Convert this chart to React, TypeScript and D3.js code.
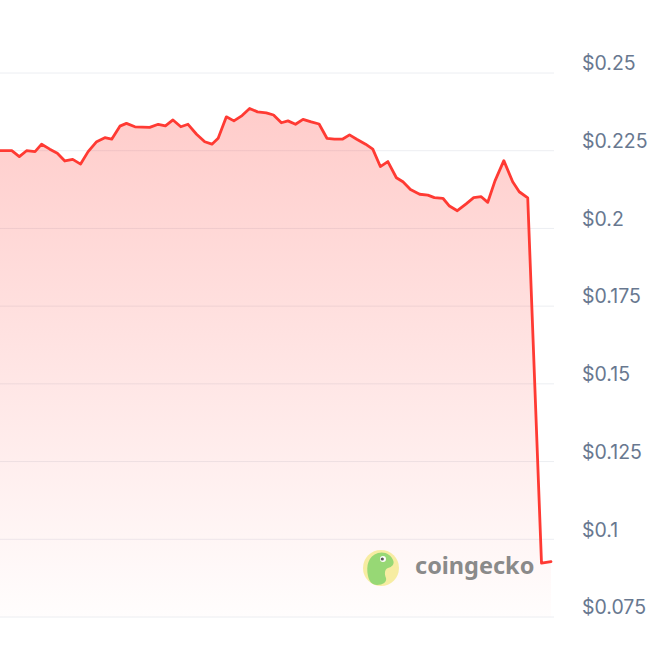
import React from "react";
import * as d3 from "d3";

// time in hours from the start of the window
const hours = [
  0, 3.6, 5.9, 8.1, 10.7, 12.7, 15.2, 17.5, 19.8, 22.2, 24.6, 26.9, 29.5, 32.0, 34.1, 36.6, 38.6,
  41.2, 43.4, 45.7, 48.3, 50.5, 52.8, 55.2, 57.4, 60.0, 62.5, 64.7, 66.6, 69.1, 71.4, 73.9, 76.2,
  78.6, 81.3, 83.5, 85.9, 87.9, 90.2, 92.5, 95.0, 97.4, 99.8, 102.1, 104.5, 106.7, 108.9, 111.6,
  113.8, 116.1, 118.4, 121.0, 123.0, 125.3, 128.1, 130.6, 132.6, 135.2, 137.2, 139.6, 142.3,
  144.6, 146.9, 148.9, 151.1, 153.8, 156.5, 158.5, 161.1, 165.3, 168.2,
];

const prices = [
  0.225, 0.225, 0.2231, 0.225, 0.2247, 0.2271, 0.2255, 0.2242, 0.2217, 0.2222, 0.2207, 0.2247,
  0.2279, 0.2292, 0.2287, 0.2329, 0.2338, 0.2327, 0.2326, 0.2325, 0.2335, 0.233, 0.2349, 0.2327,
  0.2335, 0.2303, 0.2279, 0.2271, 0.229, 0.2359, 0.2346, 0.2363, 0.2386, 0.2375, 0.2372, 0.2365,
  0.234, 0.2346, 0.2335, 0.2351, 0.2343, 0.2336, 0.229, 0.2287, 0.2287, 0.2301, 0.2287, 0.2271,
  0.2255, 0.2199, 0.2215, 0.2163, 0.215, 0.2125, 0.211, 0.2107, 0.2099, 0.2097, 0.2072, 0.2057,
  0.2079, 0.2099, 0.2102, 0.2084, 0.2153, 0.2218, 0.215, 0.2118, 0.2098, 0.0923, 0.0928,
];

const tickValues = [0.075, 0.1, 0.125, 0.15, 0.175, 0.2, 0.225, 0.25];
const tickLabels = ["$0.075", "$0.1", "$0.125", "$0.15", "$0.175", "$0.2", "$0.225", "$0.25"];

const W = 660;
const H = 660;

export default function App() {
  const x = d3.scaleLinear().domain([0, 168.2]).range([0, 551]);
  const y = d3.scaleLinear().domain([0.075, 0.25]).range([617, 73]);
  const data = hours.map((h, i) => ({ h, p: prices[i] }));

  const line = d3
    .line<{ h: number; p: number }>()
    .x((d) => x(d.h))
    .y((d) => y(d.p));
  const area = d3
    .area<{ h: number; p: number }>()
    .x((d) => x(d.h))
    .y0(y(0.075))
    .y1((d) => y(d.p));

  return (
    <svg
      width={W}
      height={H}
      style={{ position: "absolute", left: 0, top: 0, background: "#fff" }}
    >
      <defs>
        <linearGradient id="fillGrad" gradientUnits="userSpaceOnUse" x1={0} y1={y(0.24)} x2={0} y2={y(0.075)}>
          <stop offset="0%" stopColor="#ff3a33" stopOpacity={0.26} />
          <stop offset="100%" stopColor="#ff3a33" stopOpacity={0.01} />
        </linearGradient>
      </defs>
      {tickValues.map((v) => (
        <line key={v} x1={0} x2={554} y1={y(v)} y2={y(v)} stroke="#eceef2" strokeWidth={1} />
      ))}
      <path d={area(data) || ""} fill="url(#fillGrad)" />
      <path
        d={line(data) || ""}
        fill="none"
        stroke="#ff3a33"
        strokeWidth={2.8}
        strokeLinejoin="round"
        strokeLinecap="round"
      />
      {tickValues.map((v, i) => (
        <text
          key={v}
          x={582}
          y={y(v) - 8}
          dominantBaseline="middle"
          fontFamily="Inter, 'Noto Sans', sans-serif"
          fontSize={19.5}
          fill="#687890"
        >
          {tickLabels[i]}
        </text>
      ))}
      <g opacity={0.85}>
        <circle cx={381} cy={568} r={18} fill="#f6eb94" />
        <path
          d="M368,576 C366,566 368,556 378,553 C385,551 391,555 393,560 C395,564 392,567 388,568 C385,569 384,573 386,578 C387,582 383,585 377,585 C372,585 369,581 368,576 Z"
          fill="#86d35f"
        />
        <circle cx={383} cy={559} r={3} fill="#ffffff" />
        <circle cx={382.3} cy={559} r={1.6} fill="#3a3a3a" />
      </g>
      <text
        x={415}
        y={568}
        dominantBaseline="middle"
        fontFamily="'Noto Sans', sans-serif"
        fontWeight={700}
        fontSize={23.5}
        fill="#8a8a8a"
      >
        coingecko
      </text>
    </svg>
  );
}
